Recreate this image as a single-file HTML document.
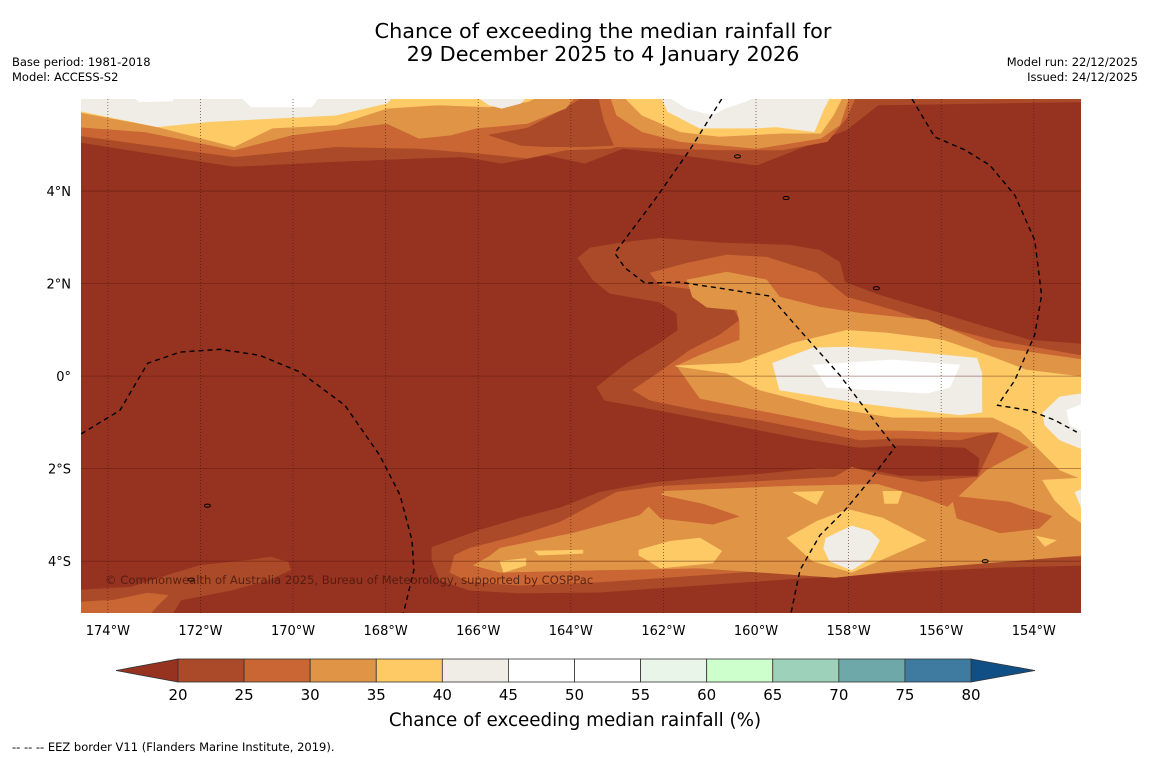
<!DOCTYPE html>
<html><head><meta charset="utf-8"><style>
html,body{margin:0;padding:0;background:#fff;}
svg{display:block;font-family:"DejaVu Sans","Liberation Sans",sans-serif;}
</style></head><body>
<svg id="chart" width="1150" height="758" viewBox="0 0 1150 758">
<text x="603" y="38" font-size="20.8" text-anchor="middle">Chance of exceeding the median rainfall for</text>
<text x="603" y="61" font-size="20.8" text-anchor="middle">29 December 2025 to 4 January 2026</text>
<text x="12" y="66" font-size="11.5">Base period: 1981-2018</text>
<text x="12" y="81" font-size="11.5">Model: ACCESS-S2</text>
<text x="1138" y="66" font-size="11.5" text-anchor="end">Model run: 22/12/2025</text>
<text x="1138" y="81" font-size="11.5" text-anchor="end">Issued: 24/12/2025</text>
<defs><clipPath id="mapclip"><rect x="81" y="99" width="1000" height="514"/></clipPath></defs>
<g id="map" clip-path="url(#mapclip)"></g>
<g id="axes"></g>
<g id="cbar"></g>
<text x="575" y="726" font-size="18.3" text-anchor="middle">Chance of exceeding median rainfall (%)</text>
<text x="12" y="751" font-size="11.5">--  --  -- EEZ border V11 (Flanders Marine Institute, 2019).</text>
</svg>
<script>
// axis extents
const lonMin = -174.58, lonMax = -152.98, latMin = -5.12, latMax = 5.99;
const lonTicks = [-174,-172,-170,-168,-166,-164,-162,-160,-158,-156,-154];
const lonTickLabels = ["174°W","172°W","170°W","168°W","166°W","164°W","162°W","160°W","158°W","156°W","154°W"];
const latTicks = [4,2,0,-2,-4];
const latTickLabels = ["4°N","2°N","0°","2°S","4°S"];
// colorbar
const cbLevels = [20,25,30,35,40,45,50,55,60,65,70,75,80];
const cbColors = ["#ab4a28","#c96633","#e09546","#fdca66","#f0ece6","#ffffff","#ffffff","#eaf5ea","#ccffcc","#9dd1b9","#6fa8a8","#3f7aa0"];
const cbUnder = "#963220", cbOver = "#104f85";
// contour regions (lon, lat)
const topL20 = [[-174.7,6.05],[-152.9,6.05],[-152.9,5.93],[-157.36,5.86],[-158.05,5.32],[-159.98,4.56],[-161.91,4.82],[-162.87,4.92],[-163.7,4.6],[-164.53,4.78],[-165.49,4.6],[-166.32,4.74],[-167.28,4.71],[-169.07,4.64],[-171.27,4.53],[-174.7,5.07]];
const topL25 = [[-174.7,6.05],[-157.84,6.05],[-158.05,5.57],[-158.46,5.07],[-159.43,4.89],[-160.8,4.89],[-163.01,4.96],[-163.15,4.92],[-164.11,4.89],[-164.94,4.71],[-166.04,4.82],[-167.28,4.92],[-169.07,4.96],[-171.27,4.74],[-174.7,5.21]];
const topHole20 = [[-165.77,5.21],[-164.94,5.36],[-164.11,5.79],[-163.7,6.05],[-163.42,6.05],[-163.29,5.5],[-163.08,4.99],[-163.7,4.96],[-164.53,4.96],[-165.08,4.99]];
const topL30a = [[-174.7,6.05],[-163.9,6.05],[-164.11,5.79],[-164.94,5.46],[-166.04,5.36],[-166.59,5.21],[-167.28,5.14],[-167.97,5.46],[-170.03,5.21],[-171.27,4.89],[-173.2,5.28],[-174.7,5.39]];
const topL30b = [[-163.15,6.05],[-163.01,5.64],[-162.46,5.28],[-161.63,5.07],[-159.98,4.92],[-158.6,5.14],[-158.19,5.43],[-157.98,6.05]];
const topL35a = [[-174.7,6.05],[-164.66,6.05],[-164.94,5.93],[-165.77,5.82],[-166.87,5.86],[-167.97,5.79],[-169.07,5.43],[-170.45,5.36],[-171.27,4.96],[-172.93,5.39],[-174.7,5.72]];
const topL35b = [[-162.87,6.05],[-162.46,5.64],[-161.63,5.28],[-160.8,5.18],[-159.43,5.25],[-158.6,5.25],[-158.33,5.64],[-158.12,6.05]];
const topL40a = [[-174.7,6.05],[-167.83,6.05],[-167.97,5.9],[-169.07,5.64],[-171.83,5.5],[-172.93,5.39],[-174.7,5.75]];
const topL40b = [[-166.04,6.05],[-165.77,5.86],[-165.49,5.79],[-165.08,5.9],[-164.94,6.05]];
const topL40c = [[-162.05,6.05],[-161.91,5.72],[-161.22,5.36],[-159.98,5.36],[-159.57,5.39],[-158.74,5.28],[-158.53,5.79],[-158.39,6.05]];
const topL45a = [[-161.91,6.05],[-161.5,5.79],[-160.94,5.64],[-160.67,5.79],[-160.25,5.93],[-159.98,6.05]];
const topL45b = [[-173.5,6.05],[-173.3,5.93],[-172.6,5.95],[-172.6,6.05]];
const topL45c = [[-171.15,6.05],[-170.9,5.82],[-169.6,5.82],[-169.42,6.05]];
const midL20 = [[-163.85,2.55],[-163.59,2.77],[-162.94,2.88],[-162.08,2.98],[-160.78,2.88],[-159.27,2.83],[-158.62,2.72],[-158.19,2.46],[-158.08,2.03],[-157.33,1.75],[-156.25,1.43],[-155.17,1.1],[-154.09,0.78],[-152.9,0.69],[-152.9,-4.09],[-154.73,-4.13],[-156.89,-4.24],[-159.05,-4.37],[-161.21,-4.52],[-163.37,-4.67],[-165.1,-4.69],[-166.18,-4.63],[-166.83,-4.41],[-167.0,-3.98],[-167.0,-3.7],[-165.97,-3.33],[-165.1,-3.07],[-164.24,-2.85],[-163.37,-2.51],[-162.29,-2.31],[-161.21,-2.21],[-159.92,-2.12],[-158.62,-1.99],[-157.54,-2.03],[-156.89,-2.16],[-155.21,-2.16],[-155.17,-1.77],[-155.49,-1.54],[-156.89,-1.49],[-157.76,-1.54],[-159.05,-1.34],[-159.92,-1.17],[-161.21,-0.91],[-162.08,-0.74],[-163.27,-0.52],[-163.44,-0.24],[-162.79,0.28],[-162.08,0.71],[-161.69,0.99],[-161.71,1.36],[-162.08,1.6],[-163.16,1.79],[-163.52,2.08]];
const midL25 = [[-162.29,2.23],[-161.49,2.44],[-160.63,2.62],[-159.77,2.57],[-158.69,2.23],[-158.04,1.71],[-157.05,1.43],[-155.97,1.06],[-154.89,0.78],[-152.9,0.43],[-152.9,-3.89],[-154.73,-3.94],[-156.89,-4.04],[-159.05,-4.15],[-161.21,-4.3],[-163.37,-4.45],[-165.1,-4.52],[-166.18,-4.45],[-166.61,-4.24],[-166.51,-3.87],[-166.18,-3.72],[-165.1,-3.44],[-164.24,-3.16],[-163.01,-2.51],[-162.06,-2.38],[-160.18,-2.29],[-158.3,-2.18],[-157.93,-1.97],[-157.37,-2.12],[-156.42,-2.29],[-155.21,-2.18],[-154.82,-1.38],[-154.73,-1.17],[-155.6,-1.38],[-156.89,-1.34],[-157.76,-1.38],[-159.05,-1.12],[-159.92,-0.95],[-161.21,-0.74],[-162.29,-0.52],[-162.66,-0.3],[-162.08,0.09],[-161.43,0.56],[-160.78,0.89],[-160.35,1.21],[-160.57,1.64],[-161.21,1.86],[-162.08,1.97]];
const midL30 = [[-161.49,2.08],[-160.63,2.25],[-159.77,2.08],[-159.49,1.71],[-158.62,1.49],[-157.76,1.36],[-156.31,1.21],[-154.89,0.63],[-152.9,0.35],[-152.9,-3.65],[-152.95,-3.87],[-154.54,-4.0],[-156.42,-4.15],[-158.3,-4.35],[-161.21,-4.15],[-163.37,-4.19],[-165.53,-4.24],[-166.1,-4.09],[-165.75,-3.89],[-165.53,-3.72],[-163.94,-3.39],[-162.51,-3.01],[-161.97,-2.49],[-159.25,-2.38],[-157.37,-2.34],[-156.42,-2.62],[-155.86,-2.83],[-155.01,-2.03],[-154.09,-1.54],[-154.73,-1.21],[-155.6,-1.21],[-156.89,-1.17],[-157.76,-1.17],[-159.05,-0.91],[-159.92,-0.74],[-161.21,-0.48],[-161.71,0.22],[-161.21,0.45],[-160.35,0.78],[-160.35,1.15],[-160.41,1.43],[-161.06,1.49],[-161.37,1.71]];
const fingerL25a = [[-162.44,-2.49],[-161.13,-2.77],[-160.37,-3.03],[-160.93,-3.2],[-162.06,-3.07],[-162.44,-2.68]];
const fingerL25b = [[-155.77,-2.59],[-154.54,-2.72],[-153.61,-3.03],[-153.89,-3.29],[-154.73,-3.39],[-155.66,-3.07]];
const midL35 = [[-161.75,0.22],[-160.35,0.28],[-159.21,0.71],[-158.04,0.99],[-157.17,0.93],[-155.97,0.78],[-154.89,0.41],[-154.15,0.13],[-152.9,-0.02],[-152.9,-2.25],[-153.44,-2.03],[-153.87,-1.6],[-154.3,-1.17],[-154.89,-0.89],[-157.05,-0.89],[-158.47,-0.67],[-159.92,-0.3],[-160.63,0.06]];
const midL40 = [[-159.64,0.28],[-158.77,0.61],[-157.97,0.63],[-157.05,0.56],[-155.23,0.39],[-155.12,0.06],[-155.12,-0.78],[-155.6,-0.84],[-157.76,-0.58],[-159.49,-0.3]];
const midL45 = [[-158.77,0.24],[-157.05,0.35],[-155.6,0.24],[-155.81,-0.24],[-156.31,-0.37],[-158.47,-0.24]];
const eastL40 = [[-153.81,-0.8],[-153.44,-0.45],[-152.9,-0.37],[-152.9,-1.6],[-153.44,-1.38],[-153.76,-1.06]];
const eastL45 = [[-153.29,-0.74],[-152.9,-0.58],[-152.9,-1.21],[-153.22,-1.06]];
const southL35a = [[-159.33,-3.5],[-158.69,-3.14],[-158.02,-2.88],[-157.26,-3.07],[-156.33,-3.55],[-157.37,-4.0],[-157.93,-4.24],[-158.77,-4.0]];
const southL40a = [[-158.49,-3.5],[-157.93,-3.24],[-157.54,-3.35],[-157.33,-3.55],[-157.54,-3.94],[-157.93,-4.19],[-158.41,-4.0],[-158.54,-3.72]];
const southL35b = [[-162.53,-3.76],[-161.86,-3.57],[-161.21,-3.5],[-160.74,-3.78],[-160.93,-4.04],[-162.06,-4.15],[-162.53,-3.87]];
const southL35c = [[-164.78,-3.78],[-163.74,-3.76],[-163.74,-3.83],[-164.69,-3.87]];
const southL35d = [[-165.53,-4.0],[-164.97,-3.94],[-164.97,-4.09],[-165.45,-4.24]];
const southL35e = [[-159.2,-2.51],[-158.54,-2.49],[-158.69,-2.77]];
const southL35f = [[-157.26,-2.49],[-156.85,-2.49],[-156.94,-2.75],[-157.22,-2.75]];
const southL35g = [[-153.81,-2.25],[-152.9,-2.2],[-152.9,-3.22],[-153.22,-3.0],[-153.55,-2.68]];
const southL40g = [[-153.11,-2.51],[-152.9,-2.42],[-152.9,-3.07],[-152.95,-2.9]];
const southL35h = [[-153.94,-3.46],[-153.52,-3.55],[-153.76,-3.68]];
const swL20 = [[-174.7,-4.63],[-173.5,-4.56],[-172.57,-4.26],[-171.99,-4.09],[-170.98,-3.98],[-170.48,-3.91],[-170.11,-4.02],[-170.05,-4.19],[-170.54,-4.41],[-171.34,-4.63],[-172.42,-4.84],[-172.64,-5.2],[-174.7,-5.2]];
const swL25 = [[-174.7,-4.89],[-173.87,-4.84],[-173.14,-4.69],[-172.7,-4.74],[-172.92,-4.95],[-173.14,-5.2],[-174.7,-5.2]];
const regions = [
  [topL20,0],[topL25,1],[topHole20,0],[topL30a,2],[topL30b,2],[topL35a,3],[topL35b,3],[topL40a,4],[topL40b,4],[topL40c,4],[topL45a,5],[topL45b,5],[topL45c,5],
  [midL20,0],[midL25,1],[midL30,2],[fingerL25a,1],[fingerL25b,1],[midL35,3],[midL40,4],[midL45,5],[eastL40,4],[eastL45,5],
  [southL35a,3],[southL40a,4],[southL35b,3],[southL35c,3],[southL35d,3],[southL35e,3],[southL35f,3],[southL35g,3],[southL40g,4],[southL35h,3],
  [swL20,0],[swL25,1]
];
// EEZ borders (lon, lat)
const eezWest = [[-174.58,-1.25],[-173.74,-0.74],[-173.14,0.28],[-172.44,0.52],[-171.58,0.58],[-170.72,0.45],[-169.85,0.09],[-168.88,-0.63],[-168.13,-1.71],[-167.69,-2.57],[-167.43,-3.55],[-167.39,-4.19],[-167.59,-5.02],[-167.63,-5.15]];
const eezMid = [[-160.74,5.99],[-161.43,4.89],[-162.19,3.81],[-162.79,3.01],[-163.05,2.66],[-162.83,2.34],[-162.4,2.01],[-161.65,2.03],[-160.78,1.9],[-159.7,1.73],[-159.05,0.99],[-158.19,0.02],[-157.54,-0.84],[-157.0,-1.54],[-157.54,-2.25],[-158.08,-2.9],[-158.62,-3.44],[-159.05,-4.19],[-159.23,-5.06],[-159.25,-5.15]];
const eezEast = [[-156.63,5.99],[-156.14,5.17],[-155.49,4.89],[-154.95,4.56],[-154.41,3.91],[-153.98,2.94],[-153.83,1.75],[-153.98,0.89],[-154.41,-0.09],[-154.78,-0.63],[-154.09,-0.74],[-153.55,-0.95],[-153.07,-1.21]];
const islands = [[-159.35,3.85],[-157.4,1.9],[-171.85,-2.8],[-172.2,-4.4],[-160.4,4.75],[-155.05,-4.0]];

const NS = "http://www.w3.org/2000/svg";
const mapX0 = 81, mapX1 = 1081, mapY0 = 99, mapY1 = 613;
function X(lon){ return mapX0 + (lon - lonMin) / (lonMax - lonMin) * (mapX1 - mapX0); }
function Y(lat){ return mapY0 + (latMax - lat) / (latMax - latMin) * (mapY1 - mapY0); }
function pts(arr){ return arr.map(p => X(p[0]).toFixed(1) + "," + Y(p[1]).toFixed(1)).join(" "); }
function mk(tag, attrs){ const e = document.createElementNS(NS, tag); for (const k in attrs) e.setAttribute(k, attrs[k]); return e; }

const map = document.getElementById("map");
const bg = mk("rect", {x: mapX0, y: mapY0, width: mapX1 - mapX0, height: mapY1 - mapY0, fill: cbUnder});


map.appendChild(bg);
regions.forEach((r, i) => {
  const poly = mk("polygon", {points: pts(r[0]), fill: cbColors[r[1]], stroke: cbColors[r[1]], "stroke-width": 0.6});
  
  
  map.appendChild(poly);
});
latTicks.forEach(t => {
  const l = mk("line", {x1: mapX0, x2: mapX1, y1: Y(t), y2: Y(t), stroke: "#5a1a0e", "stroke-width": 0.8, "stroke-opacity": 0.55});
  
  
  map.appendChild(l);
});
lonTicks.forEach(t => {
  const l = mk("line", {x1: X(t), x2: X(t), y1: mapY0, y2: mapY1, stroke: "#3a1208", "stroke-width": 0.8, "stroke-dasharray": "1,2", "stroke-opacity": 0.7});
  
  
  map.appendChild(l);
});
islands.forEach(p => {
  const e = mk("ellipse", {cx: X(p[0]), cy: Y(p[1]), rx: 3, ry: 1.6, fill: "none", stroke: "#000", "stroke-width": 1});
  
  
  map.appendChild(e);
});
[eezWest, eezMid, eezEast].forEach(line => {
  const pl = mk("polyline", {points: pts(line), fill: "none", stroke: "#000", "stroke-width": 1.4, "stroke-dasharray": "5,4"});
  
  
  map.appendChild(pl);
});
const cr = mk("text", {x: 105, y: 584, "font-size": 11.6, fill: "#4a1a0e", "fill-opacity": 0.85});
cr.textContent = "© Commonwealth of Australia 2025, Bureau of Meteorology, supported by COSPPac";


map.appendChild(cr);

const axes = document.getElementById("axes");
lonTicks.forEach((t, i) => {
  const tx = mk("text", {x: X(t), y: 635, "font-size": 13, "text-anchor": "middle"});
  tx.textContent = lonTickLabels[i];
  
  
  axes.appendChild(tx);
});
latTicks.forEach((t, i) => {
  const tx = mk("text", {x: 71, y: Y(t) + 5, "font-size": 13, "text-anchor": "end"});
  tx.textContent = latTickLabels[i];
  
  
  axes.appendChild(tx);
});

const cb = document.getElementById("cbar");
const cbX0 = 178, cbX1 = 971, cbY0 = 659, cbY1 = 682, cbTipL = 116, cbTipR = 1035;
function CX(v){ return cbX0 + (v - cbLevels[0]) / (cbLevels[cbLevels.length-1] - cbLevels[0]) * (cbX1 - cbX0); }
const under = mk("polygon", {points: cbX0+","+cbY0+" "+cbTipL+","+((cbY0+cbY1)/2)+" "+cbX0+","+cbY1, fill: cbUnder, stroke: "#333", "stroke-width": 0.8});


cb.appendChild(under);
const over = mk("polygon", {points: cbX1+","+cbY0+" "+cbTipR+","+((cbY0+cbY1)/2)+" "+cbX1+","+cbY1, fill: cbOver, stroke: "#333", "stroke-width": 0.8});


cb.appendChild(over);
cbColors.forEach((c, i) => {
  const r = mk("rect", {x: CX(cbLevels[i]), y: cbY0, width: CX(cbLevels[i+1]) - CX(cbLevels[i]), height: cbY1 - cbY0, fill: c, stroke: "#333", "stroke-width": 0.8});
  
  
  cb.appendChild(r);
});
cbLevels.forEach(v => {
  const tx = mk("text", {x: CX(v), y: 700, "font-size": 15, "text-anchor": "middle"});
  tx.textContent = String(v);
  
  
  cb.appendChild(tx);
});
</script>
</body></html>
